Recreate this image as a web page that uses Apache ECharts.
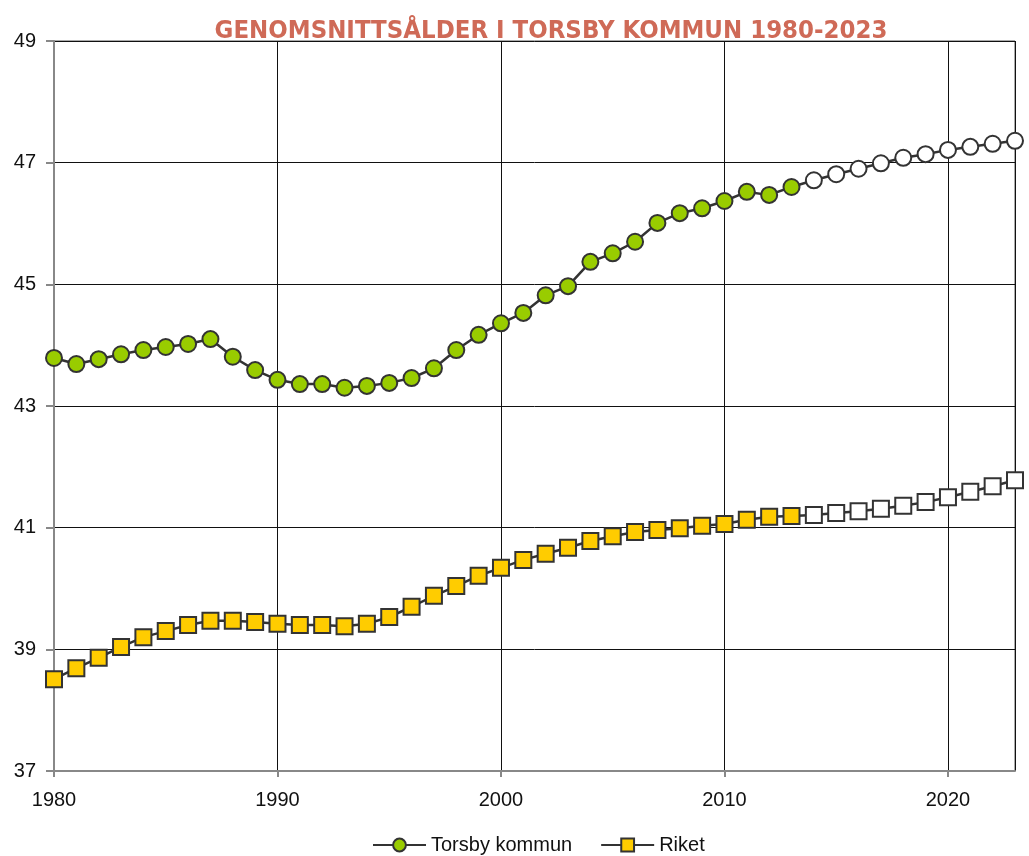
<!DOCTYPE html>
<html>
<head>
<meta charset="utf-8">
<script src="https://cdn.jsdelivr.net/npm/echarts@6/dist/echarts.min.js"></script>
<style>
	html, body { margin: 0; padding: 0; background: #fff; }
	#chart { width: 1029px; height: 856px; }
</style>
</head>
<body>
<div id="chart"></div>
<script>
// årtal 1980-2023
var years = [];
for (var y = 1980; y <= 2023; y++) years.push(y);

// medelålder
var torsby = [43.79, 43.69, 43.77, 43.85, 43.92, 43.97, 44.02, 44.10, 43.81, 43.59,
	43.43, 43.36, 43.36, 43.30, 43.33, 43.38, 43.46, 43.62, 43.92, 44.17,
	44.36, 44.53, 44.82, 44.97, 45.37, 45.51, 45.70, 46.01, 46.17, 46.25,
	46.37, 46.52, 46.47, 46.60, 46.71, 46.81, 46.90, 46.99, 47.08, 47.14,
	47.21, 47.26, 47.31, 47.36];
var riket = [38.51, 38.69, 38.86, 39.04, 39.20, 39.30, 39.40, 39.47, 39.47, 39.45,
	39.42, 39.40, 39.40, 39.38, 39.42, 39.53, 39.70, 39.88, 40.04, 40.21,
	40.34, 40.47, 40.57, 40.67, 40.78, 40.86, 40.93, 40.96, 40.99, 41.03,
	41.06, 41.13, 41.18, 41.19, 41.21, 41.24, 41.27, 41.31, 41.36, 41.42,
	41.50, 41.59, 41.68, 41.78];
var firstPrognosYear = 2014; // vita markörer från och med detta år

function buildData(values) {
	var out = [];
	for (var i = 0; i < values.length; i++) {
		var item = { value: [years[i], values[i]] };
		if (years[i] >= firstPrognosYear) {
			item.itemStyle = { color: '#ffffff' };
		}
		out.push(item);
	}
	return out;
}

var myChart = echarts.init(document.getElementById('chart'));
var option = {
	animation: false,
	title: {
		text: 'GENOMSNITTSÅLDER I TORSBY KOMMUN 1980-2023',
		left: 546,
		textAlign: 'center',
		top: 13,
		textStyle: {
			fontFamily: '"DejaVu Sans Condensed", sans-serif',
			fontWeight: 'bold',
			fontSize: 25.5,
			color: '#cf6a57'
		}
	},
	legend: {
		top: 830,
		left: 367,
		itemGap: 28,
		itemWidth: 53,
		itemHeight: 16,
		textStyle: { fontFamily: '"Liberation Sans", Arial, sans-serif', fontSize: 20, color: '#111' },
		data: ['Torsby kommun', 'Riket']
	},
	grid: {
		left: 54,
		right: 14,
		top: 41,
		bottom: 85,
		show: true,
		borderColor: '#555',
		borderWidth: 1
	},
	xAxis: {
		type: 'value',
		min: 1980,
		max: 2023,
		interval: 10,
		axisLine: { lineStyle: { color: '#888', width: 2 } },
		axisTick: { show: true, length: 6, lineStyle: { color: '#888', width: 2 } },
		axisLabel: {
			showMaxLabel: false,
			formatter: function (v) { return String(v); },
			fontFamily: '"Liberation Sans", Arial, sans-serif',
			fontSize: 20,
			color: '#111',
			margin: 19
		},
		splitLine: { show: true, lineStyle: { color: '#111', width: 1 } }
	},
	yAxis: {
		type: 'value',
		min: 37,
		max: 49,
		interval: 2,
		axisLine: { show: true, lineStyle: { color: '#888', width: 2 } },
		axisTick: { show: true, length: 8, lineStyle: { color: '#888', width: 2 } },
		axisLabel: {
			fontFamily: '"Liberation Sans", Arial, sans-serif',
			fontSize: 20,
			color: '#111',
			margin: 18
		},
		splitLine: { show: true, lineStyle: { color: '#111', width: 1 } }
	},
	series: [{
		name: 'Torsby kommun',
		type: 'line',
		symbol: 'circle',
		symbolSize: 16,
		lineStyle: { color: '#333', width: 2.5 },
		itemStyle: { color: '#99cc00', borderColor: '#333', borderWidth: 2 },
		data: buildData(torsby)
	}, {
		name: 'Riket',
		type: 'line',
		symbol: 'rect',
		symbolSize: 16,
		lineStyle: { color: '#333', width: 2.5 },
		itemStyle: { color: '#ffcc00', borderColor: '#333', borderWidth: 2 },
		data: buildData(riket)
	}]
};
myChart.setOption(option);
</script>
</body>
</html>
